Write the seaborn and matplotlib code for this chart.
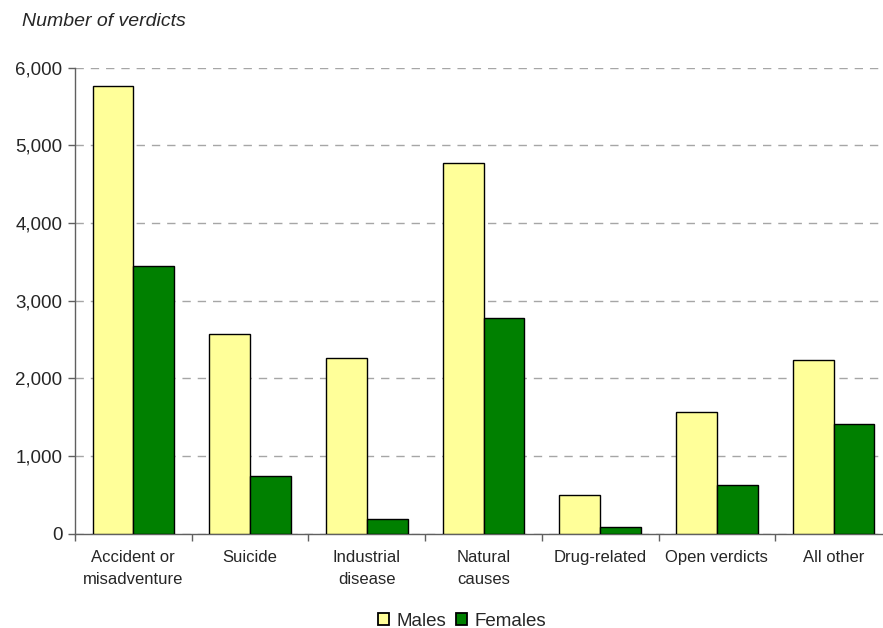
import numpy as np
import pandas as pd
import seaborn as sns
import matplotlib.pyplot as plt
from matplotlib.patches import Patch

# ------------------------------------------------------------
# Coroners' verdicts by sex
# ------------------------------------------------------------
categories = [
    "Accident or\nmisadventure",
    "Suicide",
    "Industrial\ndisease",
    "Natural\ncauses",
    "Drug-related",
    "Open verdicts",
    "All other",
]
males = [5770, 2570, 2265, 4770, 500, 1560, 2230]
females = [3450, 740, 185, 2780, 90, 630, 1415]
series = ["Males", "Females"]
y_ticks = [0, 1000, 2000, 3000, 4000, 5000, 6000]

C_MALE = "#FFFF99"
C_FEMALE = "#008000"

sns.set_theme(style="white")
plt.rcParams["font.family"] = ["Liberation Sans", "DejaVu Sans"]


def main():
    df = pd.DataFrame({
        "Category": categories * 2,
        "Sex": [series[0]] * len(categories) + [series[1]] * len(categories),
        "Verdicts": males + females,
    })

    fig = plt.figure(figsize=(8.83, 6.28), dpi=100)
    ax = fig.add_axes([75 / 883, 1 - 533.5 / 628, 817 / 883, (533.5 - 67.7) / 628])

    sns.barplot(
        data=df,
        x="Category",
        y="Verdicts",
        hue="Sex",
        hue_order=series,
        order=categories,
        palette=[C_MALE, C_FEMALE],
        width=0.7,
        gap=0,
        edgecolor="black",
        linewidth=1.0,
        saturation=1,
        legend=False,
        ax=ax,
        zorder=3,
    )

    ax.set_xlim(-0.5, len(categories) - 0.5)
    ax.set_ylim(0, 6000)
    ax.set_yticks(y_ticks)
    ax.set_yticklabels([f"{v:,}" for v in y_ticks], fontsize=13.5)
    ax.set_xlabel("")
    ax.set_ylabel("")

    # category labels at centres, tick marks on category boundaries
    ax.set_xticks(np.arange(len(categories)))
    ax.set_xticklabels(categories, fontsize=12, linespacing=1.55)
    ax.set_xticks(np.arange(len(categories) + 1) - 0.5, minor=True)
    ax.tick_params(axis="x", which="major", length=0, pad=12)
    ax.tick_params(axis="x", which="minor", length=5, width=1, color="#606060",
                   direction="out", bottom=True)
    ax.tick_params(axis="y", length=5, width=1, color="#606060",
                   direction="out", left=True, pad=4)

    ax.yaxis.grid(True, color="#A6A6A6", linestyle=(0, (6, 5)), linewidth=1.0, zorder=0)
    ax.xaxis.grid(False)
    for side in ["top", "right"]:
        ax.spines[side].set_visible(False)
    for side in ["left", "bottom"]:
        ax.spines[side].set_color("#606060")
        ax.spines[side].set_linewidth(1.0)

    fig.text(22 / 883, 1 - 22 / 628, "Number of verdicts", fontsize=14,
             style="italic", ha="left", va="center")

    handles = [
        Patch(facecolor=C_MALE, edgecolor="black", linewidth=1.3, label=series[0]),
        Patch(facecolor=C_FEMALE, edgecolor="black", linewidth=1.3, label=series[1]),
    ]
    fig.legend(
        handles=handles,
        loc="center",
        bbox_to_anchor=(462 / 883, 1 - 621 / 628),
        ncol=2,
        frameon=False,
        fontsize=13.5,
        handlelength=0.6,
        handleheight=0.6,
        handletextpad=0.4,
        columnspacing=0.5,
        borderaxespad=0,
    )

    fig.savefig("out.png", dpi=100)
    plt.close(fig)


if __name__ == "__main__":
    main()
